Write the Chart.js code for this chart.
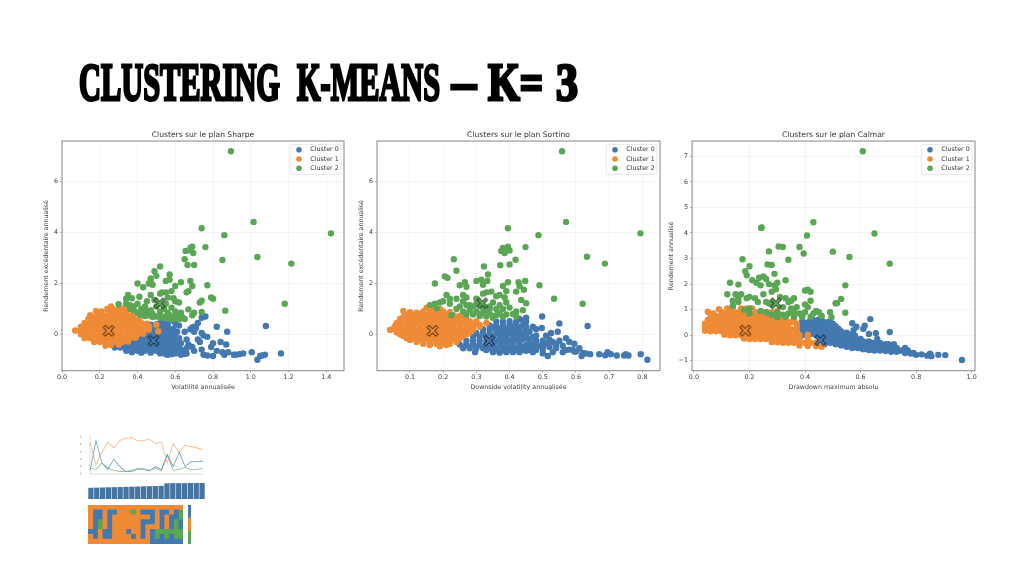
<!DOCTYPE html>
<html lang="fr"><head><meta charset="utf-8">
<script src="https://cdn.jsdelivr.net/npm/chart.js@4"></script>
<style>
html,body{margin:0;padding:0;background:#fff;width:1024px;height:576px;overflow:hidden}
canvas{position:absolute}
#heading span{position:absolute;top:52.7px;font:bold 52px "Liberation Serif",serif;color:#000;-webkit-text-stroke:3px #000;white-space:pre;transform-origin:0 0;filter:blur(.4px)}
</style></head><body>
<div id="heading"><span data-l="79" data-r="280">CLUSTERING </span><span data-l="297" data-r="440">K-MEANS </span><span data-l="452" data-r="476">– </span><span data-l="488" data-r="543">K= </span><span data-l="556" data-r="578">3</span></div>
<script>
const clusterLabels=['Cluster 0','Cluster 1','Cluster 2'];
const clusterColors=['#4379b0','#ef8a35','#5aa655'];

const sharpeC0=[[1.16,-.75],[1.08,.33],[1.035,-1],[1.075,-.8],[1.05,-.85],[1.06,-.83],[1.005,-.7],[.96,-.75],[.94,-.78],[.92,-.8],[.91,-.8],[.88,-.7],[.875,.1],[.82,.3],[.85,-.7],[.86,-.8],[.87,-.4],[.84,-.3],[.8,-.35],[.82,-.65],[.8,-.85],[.77,-.83],[.75,-.8],[.76,.7],[.74,.65],[.72,.45],[.7,.3],[.68,.2],[.7,.1],[.74,.05],[.75,-.05],[.77,-.1],[.72,-.2],[.79,-.5],[.74,-.6],[.7,-.65],[.66,-.75],[.63,-.8],[.6,-.75],[.67,-.4],[.63,-.35],[.66,-.2],[.65,.1],[.71,.25],[.69,.27],[.73,-.3],[.69,-.5],[.66,-.55],[.63,-.6],[.6,-.55],[.6,-.35],[.62,-.15],[.6,.05],[.62,.35],[.6,.45],[.58,.55],[.56,.4],[.54,.5],[.52,.45],[.5,.3],[.53,.3],[.56,.2],[.58,.15],[.48,.15],[.51,.15],[.54,.1],[.57,.02],[.45,0],[.48,0],[.51,-.02],[.54,-.05],[.57,-.12],[.42,-.15],[.45,-.15],[.48,-.15],[.51,-.18],[.54,-.2],[.57,-.25],[.6,-.2],[.39,-.3],[.42,-.3],[.45,-.3],[.48,-.3],[.51,-.32],[.54,-.35],[.57,-.4],[.35,-.45],[.38,-.45],[.41,-.45],[.44,-.45],[.47,-.47],[.5,-.47],[.53,-.5],[.56,-.53],[.59,-.5],[.3,-.47],[.33,-.5],[.36,-.55],[.39,-.6],[.42,-.6],[.45,-.6],[.48,-.62],[.51,-.6],[.54,-.65],[.57,-.68],[.6,-.7],[.37,-.7],[.42,-.72],[.47,-.72],[.52,-.75],[.55,-.78],[.58,-.78],[.65,-.77],[.56,-.8],[.27,-.42],
[.47,.38],[.5,.4],[.53,.38],[.5,.22],[.53,.22],[.56,.26],[.59,.22],[.46,.07],[.49,.07],[.52,.07],[.55,.07],[.58,.07],[.61,.1],[.41,-.08],[.44,-.08],[.47,-.08],[.5,-.08],[.53,-.08],[.56,-.08],[.59,-.08],[.37,-.22],[.4,-.22],[.43,-.22],[.46,-.22],[.49,-.22],[.52,-.22],[.55,-.22],[.58,-.22],[.33,-.37],[.36,-.37],[.4,-.37],[.43,-.37],[.46,-.37],[.49,-.37],[.52,-.37],[.55,-.37],[.58,-.37],[.61,-.37],[.28,-.52],[.31,-.52],[.34,-.52],[.37,-.52],[.4,-.52],[.43,-.52],[.46,-.52],[.49,-.52],[.52,-.52],[.55,-.52],[.58,-.52],[.62,-.52],[.34,-.65],[.37,-.65],[.4,-.65],[.44,-.65],[.47,-.65],[.5,-.65],[.53,-.65],[.56,-.65],[.6,-.65],[.64,-.65]];
const sharpeC1=[[.26,1.1],[.24,1],[.27,1],[.3,1],[.33,1.03],[.18,.92],[.21,.9],[.25,.88],[.28,.9],[.31,.9],[.34,.9],[.15,.75],[.19,.75],[.22,.75],[.25,.75],[.28,.75],[.31,.75],[.34,.75],[.37,.75],[.14,.6],[.17,.6],[.2,.6],[.23,.6],[.26,.6],[.29,.6],[.32,.6],[.35,.6],[.38,.6],[.41,.6],[.12,.45],[.15,.45],[.18,.45],[.21,.45],[.24,.45],[.27,.45],[.3,.45],[.33,.45],[.36,.45],[.39,.45],[.42,.45],[.45,.42],[.1,.3],[.13,.3],[.16,.3],[.19,.3],[.22,.3],[.25,.3],[.28,.3],[.31,.3],[.34,.3],[.37,.3],[.4,.3],[.43,.3],[.46,.32],[.5,.38],[.07,.15],[.1,.15],[.13,.15],[.16,.15],[.19,.15],[.22,.15],[.25,.15],[.28,.15],[.31,.15],[.34,.15],[.37,.15],[.4,.15],[.43,.15],[.46,.18],[.1,0],[.13,0],[.16,0],[.19,0],[.22,0],[.25,0],[.28,0],[.31,0],[.34,0],[.37,0],[.4,0],[.43,.02],[.12,-.15],[.15,-.15],[.18,-.15],[.21,-.15],[.24,-.15],[.27,-.15],[.3,-.15],[.33,-.15],[.36,-.15],[.39,-.13],[.17,-.3],[.2,-.3],[.23,-.3],[.26,-.3],[.29,-.3],[.32,-.3],[.35,-.28],[.23,-.45],[.26,-.42],[.3,-.4],[.51,.12],
[.165,.68],[.235,.68],[.305,.68],[.375,.68],[.135,.38],[.205,.38],[.275,.38],[.345,.38],[.415,.38],[.115,.08],[.175,.08],[.235,.08],[.295,.08],[.355,.08],[.415,.08],[.145,-.08],[.205,-.08],[.265,-.08],[.325,-.08],[.385,-.08],[.195,-.22],[.255,-.22],[.315,-.22]];
const sharpeC2=[[.895,7.2],[1.015,4.42],[1.425,3.97],[.74,4.17],[.86,3.9],[.76,3.43],[.85,2.92],[1.035,3.04],[1.215,2.78],[1.18,1.2],[.68,3.4],[.69,3.45],[.655,3.28],[.695,3.2],[.68,3.3],[.65,2.95],[.665,2.73],[.7,2.73],[.52,2.67],[.49,2.48],[.57,2.35],[.5,2.3],[.47,2.2],[.55,2.1],[.57,2.15],[.68,2.1],[.63,2.05],[.4,2],[.46,2],[.47,2.1],[.43,1.85],[.48,1.95],[.6,1.9],[.69,1.9],[.77,1.93],[.66,1.65],[.67,1.7],[.58,1.7],[.55,1.65],[.35,1.55],[.34,1.4],[.37,1.42],[.41,1.48],[.47,1.55],[.52,1.6],[.53,1.65],[.49,1.35],[.45,1.3],[.56,1.45],[.59,1.42],[.6,1.3],[.62,1.25],[.3,1.18],[.34,1.2],[.38,1.1],[.4,1.2],[.44,1.1],[.5,1.1],[.55,1.2],[.73,1.25],[.74,1.32],[.79,1.45],[.8,1.4],[.865,.93],[.74,.88],[.7,.85],[.69,.75],[.67,.98],[.38,.95],[.4,.85],[.43,.8],[.46,.75],[.5,.7],[.54,.65],[.58,.6],[.62,.6],[.64,.65],[.6,.9],[.63,.85],[.56,.85],[.52,.9],[.47,.95],[.44,.95],[.42,1],[.36,1],[.48,.8],[.55,.7],[.6,.72],[.45,.85],[.52,.78],[.57,.75],[.36,1.15],[.58,1.05],[.54,1],[.41,.78],[.44,.72],[.48,.68],[.52,.66],[.56,.62],[.6,.62],[.65,.6],[.63,.72]];

const sortinoC0=[[.815,-1],[.795,-.78],[.758,-.83],[.75,-.78],[.745,-.83],[.723,-.83],[.705,-.78],[.695,-.7],[.688,-.82],[.67,-.78],[.643,-.78],[.63,-.75],[.62,-.73],[.617,-.85],[.595,-.68],[.6,-.68],[.595,-.37],[.635,.33],[.55,.43],[.545,.1],[.525,.05],[.498,.7],[.497,.25],[.48,.2],[.47,.3],[.45,.65],[.43,.6],[.45,.5],[.44,.35],[.42,.5],[.41,.3],[.43,.15],[.46,.1],[.45,-.05],[.48,-.05],[.52,-.2],[.5,-.25],[.515,-.35],[.53,-.3],[.55,-.25],[.57,-.15],[.58,-.3],[.56,-.45],[.54,-.55],[.52,-.5],[.5,-.6],[.53,-.7],[.515,-.85],[.5,-.75],[.48,-.5],[.47,-.7],[.45,-.65],[.43,-.7],[.41,-.7],[.39,-.7],[.37,-.72],[.35,-.7],[.296,-.7],[.46,-.2],[.46,-.4],[.44,-.5],[.42,-.55],[.4,-.55],[.38,-.55],[.36,-.55],[.34,-.55],[.32,-.55],[.3,-.48],[.27,-.42],[.33,-.4],[.35,-.4],[.37,-.4],[.39,-.4],[.41,-.4],[.43,-.35],[.34,-.25],[.36,-.25],[.38,-.25],[.4,-.25],[.42,-.2],[.44,-.2],[.35,-.1],[.37,-.1],[.39,-.1],[.41,-.05],[.43,0],[.36,.05],[.38,.05],[.4,.05],[.37,.2],[.39,.2],[.41,.15],[.38,.35],[.4,.4],[.36,.35],[.61,-.55],[.58,-.6],[.56,-.7],[.54,-.4],[.51,-.05],[.49,-.45],[.57,-.62],[.59,-.6],[.47,-.55],
[.36,.5],[.38,.5],[.4,.52],[.42,.42],[.44,.55],[.34,.35],[.35,.27],[.42,.3],[.45,.3],[.32,.2],[.34,.2],[.36,.18],[.43,.28],[.45,.2],[.3,.05],[.32,.05],[.34,.05],[.42,.05],[.44,.05],[.29,-.1],[.31,-.1],[.33,-.1],[.43,-.1],[.45,-.12],[.47,-.1],[.27,-.25],[.29,-.25],[.31,-.25],[.33,-.25],[.46,-.28],[.48,-.25],[.25,-.4],[.27,-.4],[.29,-.4],[.31,-.4],[.45,-.42],[.47,-.42],[.5,-.4],[.26,-.55],[.28,-.55],[.3,-.55],[.35,-.17],[.37,-.17],[.39,-.17],[.41,-.17],[.35,-.32],[.37,-.32],[.39,-.32],[.41,-.32],[.33,-.47],[.35,-.47],[.37,-.47],[.39,-.47],[.41,-.47],[.43,-.47],[.45,-.5],[.37,-.03],[.39,-.03],[.38,.12],[.4,.12],[.38,.27],[.4,.27],[.42,.22],[.33,-.62],[.36,-.62],[.38,-.62],[.4,-.62],[.42,-.62],[.44,-.62],[.46,-.62],[.48,-.62],[.5,-.5]];
const sortinoC1=[[.15,1.05],[.17,1.05],[.19,1],[.08,.92],[.1,.87],[.12,.85],[.14,.9],[.16,.9],[.18,.9],[.2,.9],[.22,.88],[.09,.75],[.11,.75],[.13,.75],[.15,.75],[.17,.75],[.19,.75],[.21,.75],[.23,.75],[.25,.72],[.07,.6],[.09,.6],[.11,.6],[.13,.6],[.15,.6],[.17,.6],[.19,.6],[.21,.6],[.23,.6],[.25,.6],[.27,.6],[.06,.45],[.08,.45],[.1,.45],[.12,.45],[.14,.45],[.16,.45],[.18,.45],[.2,.45],[.22,.45],[.24,.45],[.26,.45],[.28,.45],[.3,.45],[.33,.45],[.055,.32],[.07,.3],[.09,.3],[.11,.3],[.13,.3],[.15,.3],[.17,.3],[.19,.3],[.21,.3],[.23,.3],[.25,.3],[.27,.3],[.29,.3],[.31,.3],[.04,.17],[.06,.15],[.08,.15],[.1,.15],[.12,.15],[.14,.15],[.16,.15],[.18,.15],[.2,.15],[.22,.15],[.24,.15],[.26,.15],[.28,.15],[.29,.18],[.07,0],[.09,0],[.11,0],[.13,0],[.15,0],[.17,0],[.19,0],[.21,0],[.23,0],[.25,0],[.27,0],[.09,-.15],[.11,-.15],[.13,-.15],[.15,-.15],[.17,-.15],[.19,-.15],[.21,-.15],[.23,-.15],[.25,-.15],[.12,-.3],[.14,-.3],[.16,-.3],[.18,-.3],[.2,-.3],[.22,-.3],[.24,-.3],[.16,-.42],[.19,-.47],[.21,-.42],[.23,.75],
[.1,.82],[.12,.82],[.14,.82],[.16,.82],[.18,.82],[.2,.82],[.22,.82],[.08,.67],[.1,.67],[.12,.67],[.14,.67],[.16,.67],[.18,.67],[.2,.67],[.22,.67],[.24,.67],[.26,.67],[.08,.52],[.1,.52],[.12,.52],[.14,.52],[.16,.52],[.18,.52],[.2,.52],[.22,.52],[.24,.52],[.26,.52],[.28,.52],[.3,.52],[.07,.37],[.09,.37],[.11,.37],[.13,.37],[.15,.37],[.17,.37],[.19,.37],[.21,.37],[.23,.37],[.25,.37],[.27,.37],[.29,.37],[.31,.37],[.05,.22],[.07,.22],[.09,.22],[.11,.22],[.13,.22],[.15,.22],[.17,.22],[.19,.22],[.21,.22],[.23,.22],[.25,.22],[.27,.22],[.29,.22],[.06,.07],[.08,.07],[.1,.07],[.12,.07],[.14,.07],[.16,.07],[.18,.07],[.2,.07],[.22,.07],[.24,.07],[.26,.07],[.28,.07],[.08,-.07],[.1,-.07],[.12,-.07],[.14,-.07],[.16,-.07],[.18,-.07],[.2,-.07],[.22,-.07],[.24,-.07],[.26,-.07],[.1,-.22],[.12,-.22],[.14,-.22],[.16,-.22],[.18,-.22],[.2,-.22],[.22,-.22],[.24,-.22],[.14,-.37],[.16,-.37],[.18,-.37],[.2,-.37],[.22,-.37]];
const sortinoC2=[[.558,7.2],[.57,4.42],[.395,4.17],[.794,3.97],[.487,3.9],[.448,3.43],[.395,3.45],[.38,3.4],[.375,3.28],[.39,3.3],[.385,3.2],[.4,3.3],[.418,2.93],[.4,2.75],[.372,2.72],[.323,2.67],[.335,2.35],[.232,2.95],[.24,2.5],[.205,2.28],[.213,2.22],[.175,2],[.25,1.93],[.265,2.05],[.3,2.1],[.315,2.15],[.333,2.1],[.32,1.95],[.27,1.87],[.38,1.9],[.395,2.05],[.427,2.05],[.43,1.9],[.447,2.1],[.443,1.75],[.42,1.68],[.49,1.93],[.39,1.7],[.534,1.4],[.62,1.2],[.633,3.05],[.687,2.78],[.21,1.55],[.22,1.4],[.2,1.3],[.19,1.25],[.16,1.15],[.175,1.2],[.18,1.02],[.225,.75],[.24,1.4],[.26,1.55],[.27,1.45],[.3,1.4],[.32,1.6],[.33,1.65],[.345,1.68],[.36,1.5],[.37,1.55],[.385,1.45],[.35,1.25],[.37,1.15],[.39,1.25],[.4,1.05],[.435,1.35],[.45,1.22],[.44,.95],[.42,.9],[.41,.8],[.42,.7],[.38,1],[.36,1],[.34,1],[.3,1.2],[.28,1.15],[.26,1.3],[.25,1.1],[.24,1],[.26,.9],[.28,.95],[.3,.9],[.32,.85],[.34,.8],[.36,.75],[.38,.7],[.35,.65],[.33,.7],[.31,.72],[.29,.78],[.27,.78],[.22,1.2],[.34,1.1],[.32,1.05],[.29,1.1],[.27,1.15],[.31,.8],[.33,.85],[.35,.72],[.37,.82],[.39,.78]];

const calmarC0=[[.965,-.97],[.905,-.78],[.88,-.77],[.855,-.82],[.85,-.72],[.84,-.8],[.82,-.75],[.8,-.77],[.78,-.72],[.77,-.6],[.76,-.5],[.79,-.7],[.76,-.7],[.705,.12],[.655,.08],[.635,.63],[.63,.05],[.615,.37],[.61,.25],[.585,.33],[.57,.47],[.575,.2],[.55,.1],[.74,-.6],[.73,-.5],[.72,-.35],[.7,-.35],[.71,-.6],[.69,-.45],[.67,-.3],[.66,-.5],[.64,-.3],[.64,-.55],[.62,-.3],[.62,-.5],[.6,-.15],[.6,-.35],[.6,-.5],[.58,-.1],[.58,-.3],[.58,-.45],[.56,-.05],[.56,-.2],[.56,-.4],[.54,.05],[.54,-.1],[.54,-.25],[.54,-.38],[.52,.25],[.52,.05],[.52,-.1],[.52,-.25],[.5,.45],[.5,.25],[.5,.05],[.5,-.1],[.5,-.25],[.48,.5],[.48,.3],[.48,.1],[.48,-.05],[.48,-.2],[.46,.6],[.46,.4],[.46,.2],[.46,.05],[.46,-.1],[.44,.55],[.44,.35],[.44,.15],[.44,0],[.42,.6],[.42,.4],[.42,.2],[.42,.05],[.4,.45],[.4,.25],[.4,.1],[.38,.3],[.38,.12],[.39,.55],[.66,-.15],[.68,-.5],[.75,-.6],[.58,-.02],[.47,-.35],
[.39,0],[.39,.2],[.39,.4],[.41,.1],[.41,.3],[.41,.5],[.43,.25],[.43,.45],[.43,.6],[.45,.1],[.45,.3],[.45,.5],[.45,.62],[.47,-.2],[.47,0],[.47,.15],[.47,.3],[.47,.5],[.49,-.3],[.49,-.15],[.49,0],[.49,.2],[.49,.4],[.49,.55],[.51,-.35],[.51,-.2],[.51,0],[.51,.15],[.51,.35],[.53,-.4],[.53,-.2],[.53,-.05],[.53,.15],[.55,-.45],[.55,-.3],[.55,-.15],[.55,0],[.57,-.5],[.57,-.3],[.57,-.15],[.57,.05],[.59,-.5],[.59,-.4],[.59,-.2],[.61,-.55],[.61,-.4],[.61,-.25],[.63,-.58],[.63,-.42],[.63,-.25],[.65,-.6],[.65,-.45],[.65,-.3],[.67,-.6],[.67,-.45],[.69,-.62],[.69,-.5],[.69,-.35],[.71,-.65],[.71,-.5],[.73,-.65],[.73,-.55]];
const calmarC1=[[.12,1.05],[.14,1.05],[.17,1.05],[.19,1.05],[.21,1.05],[.05,.92],[.07,.85],[.09,1.02],[.1,.9],[.12,.9],[.14,.9],[.16,.9],[.18,.9],[.2,.9],[.22,.9],[.24,.9],[.26,.9],[.28,.9],[.3,.95],[.06,.75],[.08,.75],[.1,.75],[.12,.75],[.14,.75],[.16,.75],[.18,.75],[.2,.75],[.22,.75],[.24,.75],[.26,.75],[.28,.75],[.3,.75],[.33,.72],[.05,.6],[.07,.6],[.09,.6],[.11,.6],[.13,.6],[.15,.6],[.17,.6],[.19,.6],[.21,.6],[.23,.6],[.25,.6],[.27,.6],[.29,.6],[.31,.6],[.33,.6],[.36,.6],[.04,.45],[.06,.45],[.08,.45],[.1,.45],[.12,.45],[.14,.45],[.16,.45],[.18,.45],[.2,.45],[.22,.45],[.24,.45],[.26,.45],[.28,.45],[.3,.45],[.32,.45],[.34,.45],[.37,.45],[.04,.3],[.06,.3],[.08,.3],[.1,.3],[.12,.3],[.14,.3],[.16,.3],[.18,.3],[.2,.3],[.22,.3],[.24,.3],[.26,.3],[.28,.3],[.3,.3],[.32,.3],[.34,.3],[.37,.3],[.04,.17],[.06,.15],[.08,.15],[.1,.15],[.12,.15],[.14,.15],[.16,.15],[.18,.15],[.2,.15],[.22,.15],[.24,.15],[.26,.15],[.28,.15],[.3,.15],[.32,.15],[.34,.15],[.37,.15],[.11,.02],[.13,0],[.15,0],[.17,0],[.19,0],[.21,0],[.23,0],[.25,0],[.27,0],[.29,0],[.31,0],[.33,0],[.35,0],[.38,0],[.18,-.13],[.2,-.15],[.22,-.15],[.24,-.15],[.26,-.15],[.28,-.15],[.3,-.15],[.32,-.15],[.34,-.15],[.36,-.15],[.38,-.15],[.41,-.12],[.28,-.27],[.3,-.28],[.32,-.3],[.34,-.3],[.36,-.3],[.38,-.3],[.4,-.3],[.42,-.3],[.44,-.28],[.38,-.4],[.41,-.42],[.44,-.43],[.46,-.45],[.41,.02],
[.07,.52],[.11,.52],[.15,.52],[.19,.52],[.23,.52],[.27,.52],[.31,.52],[.35,.52],[.07,.22],[.11,.22],[.15,.22],[.19,.22],[.23,.22],[.27,.22],[.31,.22],[.35,.22],[.15,.82],[.19,.82],[.23,.82],[.27,.82],[.21,.07],[.25,.07],[.29,.07],[.33,.07],[.37,.07]];
const calmarC2=[[.608,7.2],[.43,4.42],[.244,4.22],[.242,4.2],[.65,3.98],[.407,3.9],[.38,3.45],[.305,3.47],[.32,3.45],[.27,3.28],[.395,3.2],[.5,3.27],[.56,3.06],[.705,2.8],[.175,2.97],[.34,2.95],[.265,2.77],[.28,2.75],[.2,2.7],[.185,2.5],[.19,2.35],[.29,2.4],[.13,2.05],[.16,1.98],[.21,2.15],[.225,2.05],[.24,1.95],[.235,2.25],[.25,2.3],[.26,2.2],[.33,2.15],[.27,2],[.29,1.95],[.3,2.05],[.295,1.8],[.28,1.7],[.4,1.75],[.41,1.78],[.42,1.7],[.545,1.95],[.53,1.42],[.51,1.25],[.515,1.25],[.545,.88],[.49,.9],[.495,.7],[.12,1.6],[.15,1.6],[.16,1.45],[.17,1.6],[.19,1.45],[.2,1.5],[.22,1.45],[.23,1.3],[.25,1.6],[.26,1.3],[.27,1.25],[.28,1.2],[.31,1.5],[.33,1.45],[.35,1.35],[.36,1.45],[.34,1.3],[.32,1.1],[.35,1.05],[.37,1.1],[.4,1.2],[.42,1.35],[.41,1.1],[.44,.95],[.45,.9],[.46,.75],[.43,.85],[.4,.9],[.38,.85],[.36,.9],[.34,.85],[.32,.8],[.3,.9],[.28,.8],[.26,.9],[.24,.95],[.2,1.05],[.18,1],[.2,.85],[.14,1.15],[.14,1.35],[.16,1.3],[.3,.7],[.33,.72],[.36,.72],[.39,.72],[.42,.72]];

const sharpeCentroids=[[.485,-.25],[.247,.14],[.517,1.22]];
const sortinoCentroids=[[.338,-.25],[.168,.14],[.318,1.22]];
const calmarCentroids=[[.455,-.2],[.185,.18],[.295,1.25]];

const years=['2005','2006','2007','2008','2009','2010','2011','2012','2013','2014','2015','2016','2017','2018','2019','2020','2021','2022','2023','2024'];
const shareC0=[8,90,30,12,40,20,7,7,12,12,8,20,12,53,20,58,20,33,33,35];
const shareC1=[86,25,58,86,70,90,97,98,90,90,94,82,86,30,82,57,78,74,70,66];
const shareC2=[16,12,30,16,10,7,7,10,15,15,10,16,8,50,10,12,18,12,12,16];
const fundCounts=[70,71,72,73,74,75,76,77,78,79,80,81,82,98,99,99,99,100,100,100];
const heatRows=['A','B','C','D','E','F','G','H'];
const heatValues=[
[1,1,1,1,1,1,1,1,1,1,1,1,1,1,1,1,1,1,1,1],
[1,0,0,1,0,0,1,1,1,2,1,0,0,0,1,0,0,1,0,2],
[1,0,0,1,0,1,1,1,1,1,1,1,1,0,1,0,1,0,0,2],
[1,0,2,1,0,1,1,1,1,1,1,0,0,0,1,0,1,0,2,0],
[1,0,2,1,0,1,1,1,1,1,1,0,1,1,1,0,1,0,2,0],
[0,0,1,0,0,1,1,1,0,1,1,0,1,0,2,2,2,2,2,2],
[1,0,1,0,0,1,1,1,1,0,1,0,1,0,2,0,2,0,2,2],
[1,1,1,1,1,1,1,1,1,1,1,1,1,0,0,0,0,0,0,0]
];

function xMarker(color){
  const c=document.createElement('canvas');c.width=c.height=16;
  const g=c.getContext('2d');g.translate(8,8);
  const a=2.1,b=5.4;
  g.beginPath();
  [[-b,-b+a],[-b+a,-b],[0,-a],[b-a,-b],[b,-b+a],[a,0],[b,b-a],[b-a,b],[0,a],[-b+a,b],[-b,b-a],[-a,0]].forEach((p,i)=>i?g.lineTo(p[0],p[1]):g.moveTo(p[0],p[1]));
  g.closePath();g.fillStyle=color;g.fill();g.lineWidth=.85;g.strokeStyle='#000';g.stroke();
  return c;
}
function place(left,top,w,h,blur){
  const c=document.createElement('canvas');
  c.style.cssText=`left:${left}px;top:${top}px;width:${w}px;height:${h}px;filter:blur(${blur}px)`;
  c.width=w;c.height=h;document.body.appendChild(c);return c.getContext('2d');
}
const frame={id:'frame',afterDatasetsDraw(ch){const a=ch.chartArea,g=ch.ctx;g.save();g.strokeStyle='#858585';g.lineWidth=1;g.strokeRect(a.left,a.top,a.right-a.left,a.bottom-a.top);g.restore();}};
const insideLegend={id:'insideLegend',afterDraw(ch){
  const a=ch.chartArea,g=ch.ctx,x=a.right-53.7,y=a.top+3.3;
  g.save();g.fillStyle='rgba(255,255,255,.85)';g.strokeStyle='#dcdcdc';g.lineWidth=.7;
  g.beginPath();g.roundRect(x,y,50.7,30,1.5);g.fill();g.stroke();
  g.font='6.3px "DejaVu Sans"';g.textBaseline='middle';
  clusterLabels.forEach((l,i)=>{const ly=y+5.4+i*9.3;g.fillStyle=clusterColors[i];g.beginPath();g.arc(x+8.7,ly,2.8,0,7);g.fill();g.fillStyle='#333';g.fillText(l,x+20,ly);});
  g.restore();
}};
const tickFont={size:6.4,family:'"DejaVu Sans"'};
function scatter(o){
  const ctx=place(o.plotL-o.gap-5,125,o.plotR-o.plotL+o.gap+5+6,266,.35);
  const datasets=o.series.map((s,i)=>({label:clusterLabels[i],order:3-i,data:s.map(p=>({x:p[0],y:p[1]})),backgroundColor:clusterColors[i],borderWidth:0,pointRadius:3.2,pointHoverRadius:3.2}));
  datasets.push({label:'Centres',order:0,data:o.centroids.map(p=>({x:p[0],y:p[1]})),pointStyle:o.centroids.map((p,i)=>xMarker(clusterColors[i])),pointRadius:8});
  new Chart(ctx,{type:'scatter',data:{datasets},plugins:[frame,insideLegend],options:{
    responsive:false,animation:false,devicePixelRatio:1,
    layout:{padding:{top:0,right:6,bottom:0,left:0}},
    plugins:{legend:{display:false},tooltip:{enabled:false},
      title:{display:true,fullSize:false,text:o.title,color:'#333',font:{size:7.6,family:'"DejaVu Sans"',weight:'normal'},padding:{top:5.2,bottom:1.7}}},
    scales:{
      x:{type:'linear',min:o.xMin,max:o.xMax,
        afterFit(s){s.height=20.3},
        ticks:{stepSize:o.xStep,includeBounds:false,color:'#444',font:tickFont,padding:1,maxRotation:0,autoSkip:false,callback:v=>v.toFixed(1)},
        grid:{color:'rgba(0,0,0,.07)',lineWidth:.6,tickLength:2,tickColor:'#888'},border:{display:false},
        title:{display:true,text:o.xTitle,color:'#444',font:{size:6.3,family:'"DejaVu Sans"'},padding:{top:1,bottom:0}}},
      y:{type:'linear',min:o.yMin,max:o.yMax,
        afterFit(s){s.width=o.gap+5},
        ticks:{stepSize:o.yStep,includeBounds:false,color:'#444',font:tickFont,padding:2,callback:v=>v<0?'−'+(-v):v},
        grid:{color:'rgba(0,0,0,.07)',lineWidth:.6,tickLength:2,tickColor:'#888'},border:{display:false},
        title:{display:true,text:o.yTitle,color:'#444',font:{size:6.3,family:'"DejaVu Sans"'},padding:{top:0,bottom:1}}}
    }}});
}
scatter({plotL:61.7,plotR:347,gap:14,series:[sharpeC0,sharpeC1,sharpeC2],centroids:sharpeCentroids,title:'Clusters sur le plan Sharpe',xTitle:'Volatilité annualisée',yTitle:'Rendement excédentaire annualisé',xMin:0,xMax:1.494,xStep:.2,yMin:-1.43,yMax:7.6,yStep:2});
scatter({plotL:376.7,plotR:662.7,gap:14,series:[sortinoC0,sortinoC1,sortinoC2],centroids:sortinoCentroids,title:'Clusters sur le plan Sortino',xTitle:'Downside volatility annualisée',yTitle:'Rendement excédentaire annualisé',xMin:.0007,xMax:.853,xStep:.1,yMin:-1.43,yMax:7.6,yStep:2});
scatter({plotL:692,plotR:978,gap:19,series:[calmarC0,calmarC1,calmarC2],centroids:calmarCentroids,title:'Clusters sur le plan Calmar',xTitle:'Drawdown maximum absolu',yTitle:'Rendement annualisé',xMin:-.007,xMax:1.012,xStep:.2,yMin:-1.39,yMax:7.6,yStep:1});

const miniFont={size:2.6,family:'"DejaVu Sans"'};
const lineCols=['#5c92ba','#efae78','#78b078'];
new Chart(place(80,430,130,48,.55),{type:'line',data:{labels:years,datasets:[shareC0,shareC1,shareC2].map((d,i)=>({label:clusterLabels[i],data:d,borderColor:lineCols[i],borderWidth:.7,pointRadius:0,tension:0}))},
  options:{responsive:false,animation:false,devicePixelRatio:2,layout:{padding:{top:5,right:7,bottom:0,left:0}},plugins:{legend:{display:false},tooltip:{enabled:false}},
  scales:{x:{afterFit(s){s.height=4},offset:false,ticks:{font:miniFont,color:'#666',padding:.5,maxRotation:0,autoSkip:false,callback(v,i){return i%3?'':years[i]}},grid:{display:false},border:{color:'#bbb',width:.5}},
          y:{afterFit(s){s.width=10},min:0,max:105,ticks:{stepSize:20,includeBounds:false,font:miniFont,color:'#666',padding:.5},grid:{display:false},border:{color:'#bbb',width:.5}}}}});
new Chart(place(80,480,130,23,.6),{type:'bar',data:{labels:years,datasets:[{label:'Fonds',data:fundCounts,backgroundColor:'#44749f',categoryPercentage:1,barPercentage:.9}]},
  options:{responsive:false,animation:false,devicePixelRatio:2,layout:{padding:{top:3,right:5,bottom:0,left:0}},plugins:{legend:{display:false},tooltip:{enabled:false}},
  scales:{x:{afterFit(s){s.height=4},ticks:{font:miniFont,color:'#666',padding:.5,maxRotation:0,autoSkip:false},grid:{display:false},border:{display:false}},
          y:{afterFit(s){s.width=8},min:0,max:100,ticks:{stepSize:50,font:miniFont,color:'#666',padding:.5},grid:{display:false},border:{display:false}}}}});
const heatDatasets=years.map((yr,c)=>({label:yr,data:heatRows.map(()=>1),backgroundColor:heatRows.map((r,i)=>clusterColors[heatValues[i][c]]),categoryPercentage:1,barPercentage:1,borderWidth:0}));
new Chart(place(80,503,104,46,.6),{type:'bar',data:{labels:heatRows,datasets:heatDatasets},
  options:{indexAxis:'y',responsive:false,animation:false,devicePixelRatio:2,layout:{padding:{top:2,right:1,bottom:0,left:0}},plugins:{legend:{display:false},tooltip:{enabled:false}},
  scales:{x:{stacked:true,min:0,max:20,afterFit(s){s.height=5},ticks:{display:false},grid:{display:false},border:{display:false}},
          y:{stacked:true,afterFit(s){s.width=8},ticks:{font:miniFont,color:'#666',padding:.5},grid:{display:false},border:{display:false}}}}});
new Chart(place(186,503,7,46,.55),{type:'bar',data:{labels:['k'],datasets:[2,1,0].map(i=>({label:clusterLabels[i],data:[1],backgroundColor:clusterColors[i],categoryPercentage:1,barPercentage:1}))},
  options:{responsive:false,animation:false,devicePixelRatio:2,layout:{padding:{top:2,right:2,bottom:5,left:2}},plugins:{legend:{display:false},tooltip:{enabled:false}},
  scales:{x:{stacked:true,display:false},y:{stacked:true,display:false,min:0,max:3}}}});

document.querySelectorAll('#heading span').forEach(s=>{
  const l=+s.dataset.l,r=+s.dataset.r,probe=document.createRange();
  probe.selectNodeContents(s);
  const txt=s.textContent.trimEnd();
  s.textContent=txt;
  s.style.left=l+'px';
  s.style.transform=`scaleX(${(r-l)/s.getBoundingClientRect().width})`;
  s.insertAdjacentText('afterend',' ');
});
</script></body></html>
